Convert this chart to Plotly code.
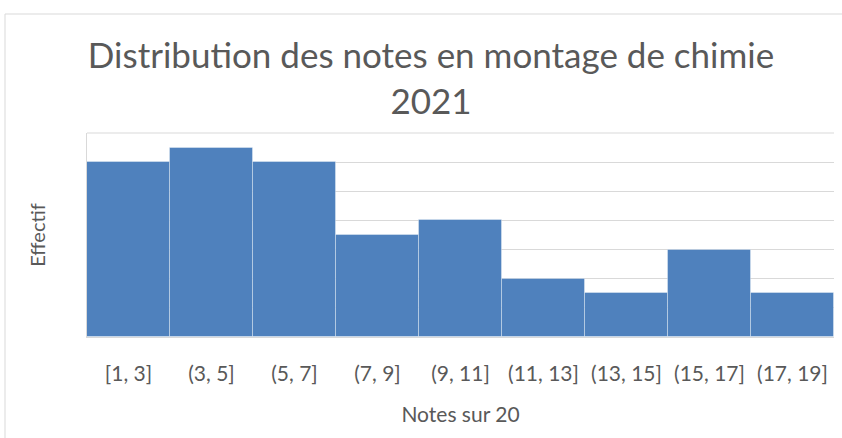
import plotly.graph_objects as go

categories = ["[1, 3]", "(3, 5]", "(5, 7]", "(7, 9]", "(9, 11]", "(11, 13]", "(13, 15]", "(15, 17]", "(17, 19]"]
counts = [12, 13, 12, 7, 8, 4, 3, 6, 3]

W, H = 842, 438
L, R, T, B = 87, 8, 133, 101
pw, ph = W - L - R, H - T - B

def px(x):
    return (x - L) / pw

def py(y):
    return (H - B - y) / ph

font = "Lato"

fig = go.Figure(go.Bar(
    x=categories, y=counts,
    marker=dict(color="#4F81BD", line=dict(color="rgba(255,255,255,0.35)", width=1)),
))

fig.update_layout(
    width=W, height=H,
    margin=dict(l=L, r=R, t=T, b=B),
    paper_bgcolor="white", plot_bgcolor="white",
    bargap=0,
    showlegend=False,
    title=dict(text="Distribution des notes en montage de chimie<br>2021",
               x=px(431), xref="paper", xanchor="center",
               y=1 - 68 / H, yref="container", yanchor="middle",
               font=dict(family=font, size=35, color="#595959")),
    font=dict(family=font, color="#595959"),
    xaxis=dict(showgrid=False, showline=True, linecolor="#d9d9d9", linewidth=1,
               ticks="", tickfont=dict(size=21, color="#595959"), ticklabelstandoff=18,
               title=dict(text="Notes sur 20", font=dict(size=21, color="#595959"), standoff=23)),
    yaxis=dict(range=[0, 14], dtick=2, showgrid=True, gridcolor="#d9d9d9", gridwidth=1,
               showticklabels=False, showline=True, linecolor="#d9d9d9", zeroline=False,
               title=dict(text="Effectif", font=dict(size=20, color="#595959"), standoff=35)),
    shapes=[dict(type="rect", xref="paper", yref="paper",
                 x0=px(5), x1=px(860), y0=py(460), y1=py(14),
                 line=dict(color="#d9d9d9", width=1), fillcolor="rgba(0,0,0,0)", layer="below"),
            dict(type="line", xref="paper", yref="paper", x0=0, x1=1, y0=1, y1=1,
                 line=dict(color="#d9d9d9", width=1))],
)

fig.write_html("out.html", config={"displayModeBar": False},
               post_script="document.body.style.margin='0';")
